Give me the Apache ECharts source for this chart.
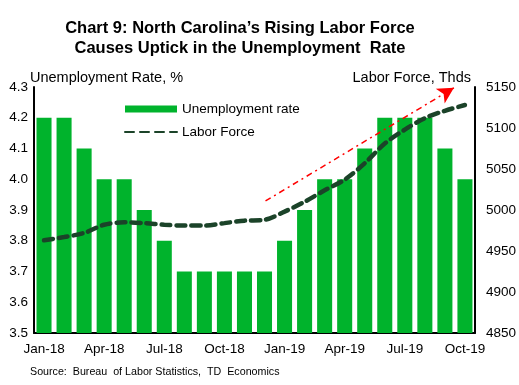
<!DOCTYPE html>
<html><head><meta charset="utf-8">
<script src="https://cdn.jsdelivr.net/npm/echarts@6/dist/echarts.min.js"></script>
<style>html,body{margin:0;padding:0;background:#fff}#c{width:519px;height:385px}</style>
</head><body><div id="c"></div>
<script>
const categories = ['Jan-18','Feb-18','Mar-18','Apr-18','May-18','Jun-18','Jul-18','Aug-18','Sep-18','Oct-18','Nov-18','Dec-18',
  'Jan-19','Feb-19','Mar-19','Apr-19','May-19','Jun-19','Jul-19','Aug-19','Sep-19','Oct-19'];
const unemploymentRate = [4.2,4.2,4.1,4.0,4.0,3.9,3.8,3.7,3.7,3.7,3.7,3.7,3.8,3.9,4.0,4.0,4.1,4.2,4.2,4.2,4.1,4.0];
const laborForce = [4963,4967,4972,4982,4985,4984,4982,4981,4981,4984,4987,4988,4998,5010,5024,5037,5057,5081,5098,5112,5121,5128];
// trend arrow (month index, labor force)
const trendArrowStart = [11.05, 5011];
const trendArrowEnd = [20.45, 5149];

const chart = echarts.init(document.getElementById('c'));
const font = 'Liberation Sans, Arial, sans-serif';
chart.setOption({
  animation: false,
  textStyle: {fontFamily: font},
  title: {
    text: 'Chart 9: North Carolina\u2019s Rising Labor Force\nCauses Uptick in the Unemployment  Rate',
    left: 235, textAlign: 'center', top: 13,
    textStyle: {fontSize: 16.5, fontWeight: 'bold', color: '#000', lineHeight: 20, fontFamily: font}
  },
  graphic: [
    {type: 'text', left: 30, top: 367, style: {text: 'Source:  Bureau  of Labor Statistics,  TD  Economics', fontSize: 10.7, fill: '#000', fontFamily: font}}
  ],
  legend: {
    orient: 'vertical', left: 119, top: 97, itemGap: 9, itemWidth: 52, itemHeight: 7,
    textStyle: {fontSize: 13.5, color: '#000', fontFamily: font},
    data: [
      {name: 'Unemployment rate', icon: 'rect'},
      {name: 'Labor Force', itemStyle: {color: 'rgba(0,0,0,0)', borderWidth: 0}}
    ]
  },
  grid: {left: 34, right: 42, top: 87, bottom: 52},
  xAxis: [
    {
      type: 'category', data: categories,
      axisLine: {onZero: false, lineStyle: {color: '#000', width: 2}},
      axisTick: {show: false},
      axisLabel: {interval: 2, color: '#000', fontSize: 13.5, margin: 9, fontFamily: font}
    },
    {type: 'value', min: -0.5, max: 21.5, show: false, axisLine: {onZero: false}}
  ],
  yAxis: [
    {
      type: 'value', min: 3.5, max: 4.3, interval: 0.1,
      name: 'Unemployment Rate, %', nameLocation: 'end', nameGap: 2, nameMoveOverlap: false,
      nameTextStyle: {color: '#000', fontSize: 14.5, align: 'left', padding: [0,0,0,-4], fontFamily: font},
      splitLine: {show: false},
      axisLine: {show: true, onZero: false, lineStyle: {color: '#000', width: 2}},
      axisTick: {show: false},
      axisLabel: {color: '#000', fontSize: 13.5, margin: 6, formatter: v => v.toFixed(1), fontFamily: font}
    },
    {
      type: 'value', min: 4850, max: 5150, interval: 50,
      name: 'Labor Force, Thds', nameLocation: 'end', nameGap: 2, nameMoveOverlap: false,
      nameTextStyle: {color: '#000', fontSize: 14.5, align: 'right', padding: [0,4,0,0], fontFamily: font},
      splitLine: {show: false},
      axisLine: {show: true, onZero: false, lineStyle: {color: '#000', width: 2}},
      axisTick: {show: false},
      axisLabel: {color: '#000', fontSize: 13.5, margin: 11, formatter: v => String(v), fontFamily: font}
    }
  ],
  series: [
    {
      name: 'Unemployment rate', type: 'bar', data: unemploymentRate, yAxisIndex: 0,
      barCategoryGap: '25%', itemStyle: {color: '#00B32C'}
    },
    {
      name: 'Labor Force', type: 'line', data: laborForce, yAxisIndex: 1,
      smooth: 0.3, showSymbol: false, symbol: 'none',
      lineStyle: {color: '#1b4329', width: 4.5, type: [9, 6], cap: 'round'},
      itemStyle: {color: '#1b4329'}
    },
    {
      name: 'trend', type: 'line', xAxisIndex: 1, yAxisIndex: 1, data: [],
      markLine: {
        silent: true, symbol: ['none', 'arrow'], symbolSize: [13, 16],
        label: {show: false},
        lineStyle: {color: '#ff0000', width: 1.5, type: [6, 4, 2, 4]},
        data: [[{coord: trendArrowStart}, {coord: trendArrowEnd}]]
      }
    }
  ]
});
</script></body></html>
